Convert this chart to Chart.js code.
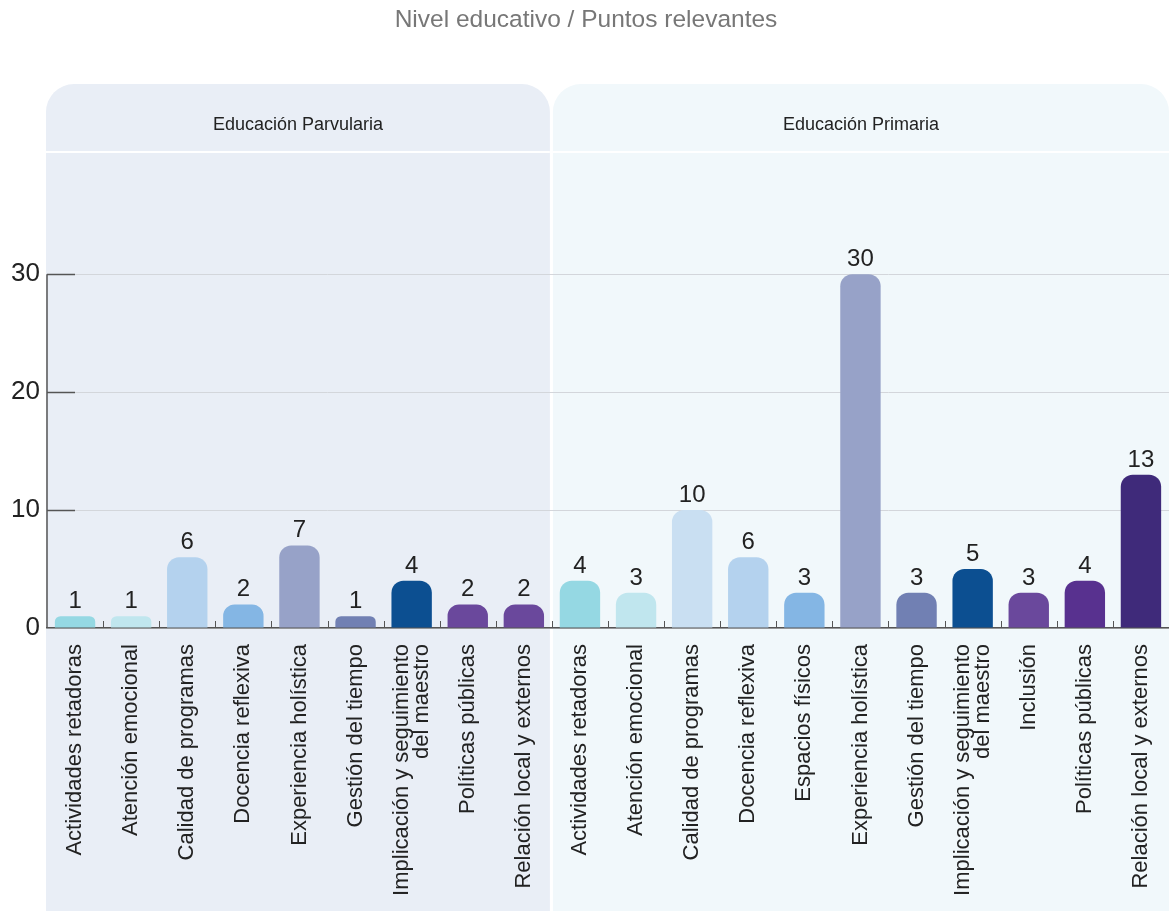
<!DOCTYPE html>
<html>
<head>
<meta charset="utf-8">
<script src="https://cdn.jsdelivr.net/npm/chart.js@4/dist/chart.umd.min.js"></script>
<style>
  html, body { margin: 0; padding: 0; background: #ffffff; }
  #wrap { width: 1169px; height: 911px; }
</style>
</head>
<body>
<div id="wrap"><canvas id="chart"></canvas></div>
<script>
// Data
const groups = ['Educación Parvularia', 'Educación Primaria'];

const parvulariaCats = [
    'Actividades retadoras',
    'Atención emocional',
    'Calidad de programas',
    'Docencia reflexiva',
    'Experiencia holística',
    'Gestión del tiempo',
    ['Implicación y seguimiento', 'del maestro'],
    'Políticas públicas',
    'Relación local y externos'
];
const parvulariaValues = [1, 1, 6, 2, 7, 1, 4, 2, 2];

const primariaCats = [
    'Actividades retadoras',
    'Atención emocional',
    'Calidad de programas',
    'Docencia reflexiva',
    'Espacios físicos',
    'Experiencia holística',
    'Gestión del tiempo',
    ['Implicación y seguimiento', 'del maestro'],
    'Inclusión',
    'Políticas públicas',
    'Relación local y externos'
];
const primariaValues = [4, 3, 10, 6, 3, 30, 3, 5, 3, 4, 13];

const yTicks = [0, 10, 20, 30];

// Colors
const parvulariaColors = ['#95d8e3', '#c0e6ee', '#b4d2ee', '#84b6e4', '#97a2c8', '#7180b3', '#0c4f91', '#6a489c', '#6a489c'];
const primariaColors = ['#95d8e3', '#c0e6ee', '#c9dff2', '#b4d2ee', '#84b6e4', '#97a2c8', '#7180b3', '#0c4f91', '#6a489c', '#58318f', '#3f2a7a'];
const panelColors = ['#e9eef6', '#f1f8fb'];
const fontFamily = "'Liberation Sans', Arial, Helvetica, sans-serif";

const labels = parvulariaCats.concat(primariaCats);
const values = parvulariaValues.concat(primariaValues);
const groupSizes = [parvulariaCats.length, primariaCats.length];

// Panel backgrounds with header band
const panelsPlugin = {
    id: 'panels',
    beforeDraw(chart) {
        const { ctx, chartArea, scales: { x } } = chart;
        const step = x.getPixelForValue(1) - x.getPixelForValue(0);

        // center two-line tick labels on their category
        x.getLabelItems(chartArea).forEach(item => {
            if (Array.isArray(item.label) && !item._centered) {
                const lh = item.font.lineHeight;
                item.options.translation[0] -= (item.label.length - 1) * lh / 2;
                item._centered = true;
            }
        });

        let start = 0;
        ctx.save();
        groups.forEach((name, gi) => {
            const n = groupSizes[gi];
            const x0 = x.getPixelForValue(start) - step / 2;
            const x1 = x.getPixelForValue(start + n - 1) + step / 2;
            const left = gi === 0 ? x0 - 1 : x0 + 1;
            const right = gi === groups.length - 1 ? chart.width : x1 - 2;
            const top = 84;
            ctx.fillStyle = panelColors[gi];
            ctx.beginPath();
            ctx.roundRect(left, top, right - left, chart.height - top, [28, 28, 0, 0]);
            ctx.fill();
            ctx.fillStyle = '#ffffff';
            ctx.fillRect(left, 151, right - left, 2);
            ctx.fillStyle = '#222222';
            ctx.font = '18px ' + fontFamily;
            ctx.textAlign = 'center';
            ctx.textBaseline = 'middle';
            ctx.fillText(name, (left + right) / 2, 125);
            start += n;
        });
        ctx.restore();
    }
};

// Axis details and value labels
const marksPlugin = {
    id: 'marks',
    afterDatasetsDraw(chart) {
        const { ctx, chartArea, scales: { x, y } } = chart;
        const step = x.getPixelForValue(1) - x.getPixelForValue(0);
        ctx.save();
        ctx.strokeStyle = '#555555';
        ctx.lineWidth = 1.5;
        // y axis line from 0 to top tick
        ctx.beginPath();
        ctx.moveTo(chartArea.left, y.getPixelForValue(yTicks[yTicks.length - 1]));
        ctx.lineTo(chartArea.left, y.getPixelForValue(0));
        ctx.stroke();
        // short dark ticks on the y axis
        yTicks.slice(1).forEach(v => {
            const py = Math.round(y.getPixelForValue(v)) + 0.5;
            ctx.beginPath();
            ctx.moveTo(chartArea.left, py);
            ctx.lineTo(chartArea.left + 28, py);
            ctx.stroke();
        });
        // small upward ticks between categories
        ctx.lineWidth = 1;
        for (let i = 1; i <= values.length; i++) {
            const px = Math.round(x.getPixelForValue(i - 1) + step / 2) + 0.5;
            ctx.beginPath();
            ctx.moveTo(px, chartArea.bottom);
            ctx.lineTo(px, chartArea.bottom - 7);
            ctx.stroke();
        }
        // value labels
        ctx.fillStyle = '#222222';
        ctx.font = '24px ' + fontFamily;
        ctx.textAlign = 'center';
        ctx.textBaseline = 'alphabetic';
        chart.getDatasetMeta(0).data.forEach((bar, i) => {
            ctx.fillText(String(values[i]), bar.x, bar.y - 8);
        });
        ctx.restore();
    }
};

new Chart(document.getElementById('chart'), {
    type: 'bar',
    data: {
        labels: labels,
        datasets: [{
            data: values,
            backgroundColor: parvulariaColors.concat(primariaColors),
            borderRadius: 12,
            borderSkipped: 'start',
            categoryPercentage: 1,
            barPercentage: 0.72
        }]
    },
    options: {
        responsive: true,
        maintainAspectRatio: false,
        animation: false,
        layout: { padding: { top: 0, left: 0, bottom: 0, right: -3 } },
        plugins: {
            legend: { display: false },
            tooltip: { enabled: false },
            title: {
                display: true,
                text: 'Nivel educativo / Puntos relevantes',
                color: '#777777',
                font: { family: fontFamily, size: 24.5, weight: 'normal' },
                padding: { top: 6, bottom: 121 }
            }
        },
        scales: {
            x: {
                grid: { display: false, drawTicks: false },
                border: { display: true, color: '#555555', width: 1.5 },
                ticks: {
                    color: '#222222',
                    font: { family: fontFamily, size: 22, lineHeight: 0.9 },
                    minRotation: 90,
                    maxRotation: 90,
                    autoSkip: false,
                    padding: 16
                },
                afterFit(scale) {
                    scale.height = 283;
                    scale.paddingLeft = 0;
                    scale.paddingRight = 0;
                }
            },
            y: {
                min: 0,
                max: 40,
                grid: { color: '#d3d6db', lineWidth: 1, drawTicks: false },
                border: { display: false },
                ticks: {
                    stepSize: 10,
                    color: '#222222',
                    font: { family: fontFamily, size: 26 },
                    padding: 7
                },
                afterBuildTicks(scale) {
                    scale.ticks = yTicks.map(v => ({ value: v }));
                },
                afterFit(scale) {
                    scale.width = 47;
                }
            }
        }
    },
    plugins: [panelsPlugin, marksPlugin]
});
</script>
</body>
</html>
